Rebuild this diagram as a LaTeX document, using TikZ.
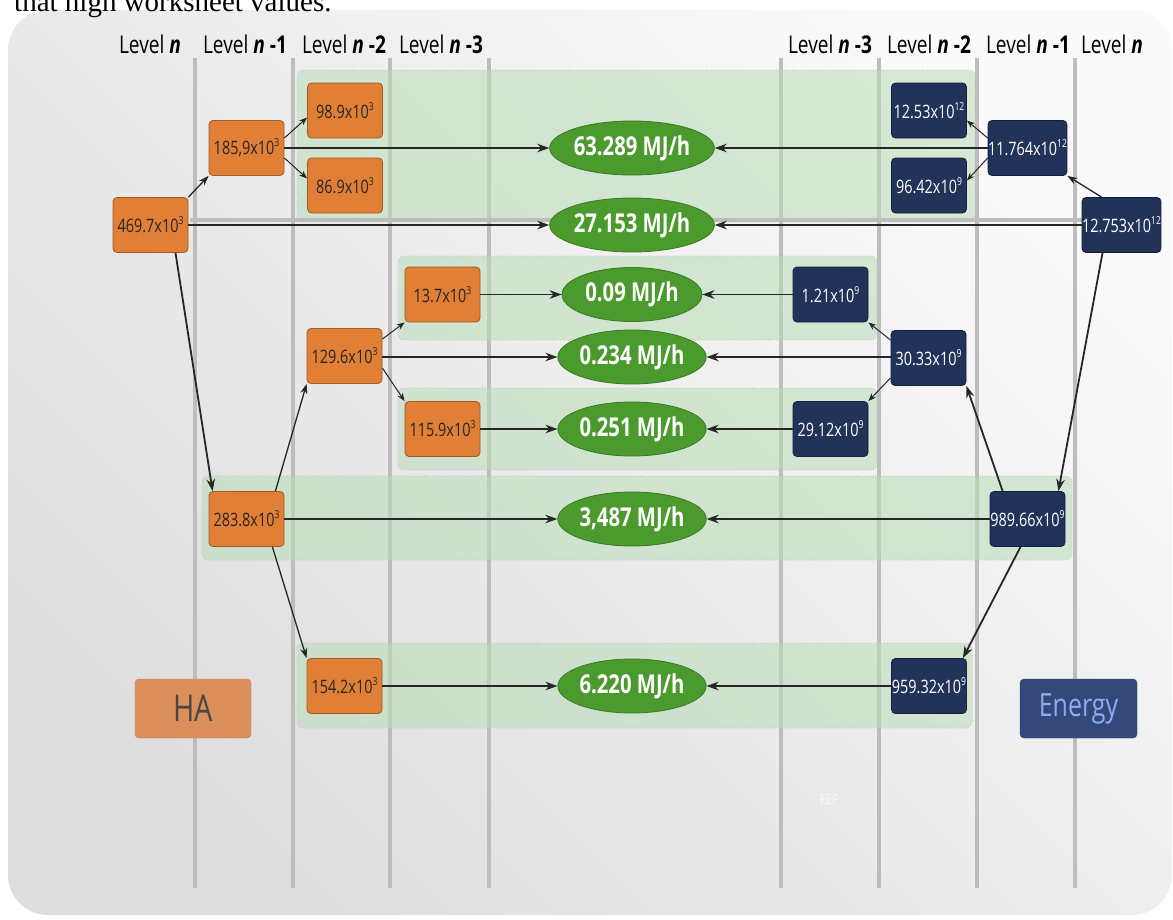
\documentclass[tikz,border=0pt]{standalone}
\usepackage{fontspec}
\setmainfont{Liberation Serif}
\newfontfamily\osfont[FakeStretch=0.78]{Open Sans}
\newcommand{\expo}[1]{\raisebox{0.42em}{\fontsize{11}{11}\selectfont #1}}
\usetikzlibrary{arrows.meta,shapes.geometric,calc}
\definecolor{orng}{HTML}{E07F35}
\definecolor{orngb}{HTML}{A35A22}
\definecolor{navy}{HTML}{22335A}
\definecolor{navyb}{HTML}{141F3A}
\definecolor{grn}{HTML}{4A9A2E}
\definecolor{grnb}{HTML}{3A7A22}
\definecolor{gridc}{HTML}{BDBDBD}
\definecolor{bandc}{HTML}{B8DCB8}
\definecolor{hafill}{HTML}{DC8E5B}
\definecolor{enfill}{HTML}{34497A}
\definecolor{entext}{HTML}{8EAAF0}
\begin{document}
\begin{tikzpicture}[x=1pt,y=-1pt,
  hbox/.style={draw=orngb,fill=orng,rounded corners=4pt,minimum width=75pt,minimum height=55pt,inner sep=0pt,text=black!85,font=\osfont\fontsize{18.5}{22}\selectfont,line width=0.8pt},
  ebox/.style={draw=navyb,fill=navy,rounded corners=4pt,minimum width=75pt,minimum height=55pt,inner sep=0pt,text=white,font=\osfont\fontsize{18.5}{22}\selectfont,line width=0.8pt},
  mj/.style={ellipse,draw=grnb,fill=grn,minimum width=140pt,minimum height=54pt,inner sep=0pt,text=white,font=\osfont\bfseries\fontsize{26}{30}\selectfont,line width=0.8pt},
  band/.style={fill=bandc,fill opacity=0.55,draw=gray!55,dotted,rounded corners=6pt,line width=0.7pt},
  lvl/.style={font=\osfont\fontsize{24.5}{28}\selectfont,text=black,inner sep=0pt},
  arr/.style={-{Stealth[length=12pt,width=8.5pt]},line width=1.8pt,draw=black!85},
  marr/.style={-{Stealth[length=10pt,width=7pt]},line width=1.3pt,draw=black!85},
  tarr/.style={-{Stealth[length=8pt,width=6pt]},line width=1pt,draw=black!85},
  gridl/.style={draw=gridc,line width=4pt}
]
\useasboundingbox (0,0) rectangle (1173,919);
\clip (0,0) rectangle (1173,919);
\fill[white] (0,0) rectangle (1173,919);
\shade[rounded corners=40pt,top color=white!98!black,bottom color=white!87!black,shading angle=-45] (8,10) rectangle (1172,915);
\node[anchor=base west,inner sep=0pt,font=\fontsize{29}{33}\selectfont] (toptext) at (14,11) {that high worksheet values.};
% grid
\foreach \x in {195,293,390,489,781,879,977,1075} \draw[gridl] (\x,58) -- (\x,888);
% bands
\draw[band] (297,70) rectangle (975,222);
\draw[band] (398,256) rectangle (877,340);
\draw[band] (398,388) rectangle (877,470);
\draw[band] (202,476) rectangle (1072,560);
\draw[band] (297,643) rectangle (972,728);
\draw[gridl] (190,220) -- (1085,220);
% level labels
\node[lvl] (l1) at (150,44) {Level \textbf{\textit{n}}};
\node[lvl] (l2) at (245,44) {Level \textbf{\textit{n} -1}};
\node[lvl] (l3) at (344,44) {Level \textbf{\textit{n} -2}};
\node[lvl] (l4) at (441,44) {Level \textbf{\textit{n} -3}};
\node[lvl] (r4) at (830,44) {Level \textbf{\textit{n} -3}};
\node[lvl] (r3) at (929,44) {Level \textbf{\textit{n} -2}};
\node[lvl] (r2) at (1028,44) {Level \textbf{\textit{n} -1}};
\node[lvl] (r1) at (1112,44) {Level \textbf{\textit{n}}};
% left nodes
\node[hbox] (n469) at (150.5,225) {469.7x10\expo{3}};
\node[hbox] (n185) at (246.5,148) {185,9x10\expo{3}};
\node[hbox] (n98) at (345,110.5) {98.9x10\expo{3}};
\node[hbox] (n86) at (345,185.5) {86.9x10\expo{3}};
\node[hbox] (n137) at (442.5,294.5) {13.7x10\expo{3}};
\node[hbox] (n129) at (344.5,356) {129.6x10\expo{3}};
\node[hbox] (n115) at (442.5,429) {115.9x10\expo{3}};
\node[hbox] (n283) at (246.5,519) {283.8x10\expo{3}};
\node[hbox] (n154) at (344.5,686) {154.2x10\expo{3}};
% right nodes
\node[ebox] (n1253) at (929,110.5) {12.53x10\expo{12}};
\node[ebox] (n9642) at (929,185.5) {96.42x10\expo{9}};
\node[ebox] (n11764) at (1027.5,148) {11.764x10\expo{12}};
\node[ebox] (n12753) at (1121.5,225) {12.753x10\expo{12}};
\node[ebox] (n121) at (830.5,294.5) {1.21x10\expo{9}};
\node[ebox] (n3033) at (928.5,358) {30.33x10\expo{9}};
\node[ebox] (n2912) at (830.5,429) {29.12x10\expo{9}};
\node[ebox] (n98966) at (1027.5,519) {989.66x10\expo{9}};
\node[ebox] (n95932) at (929,686) {959.32x10\expo{9}};
% ellipses
\node[mj] (e1) at (632,148) {63.289 MJ/h};
\node[mj] (e2) at (632,225) {27.153 MJ/h};
\node[mj] (e3) at (632,294.5) {0.09 MJ/h};
\node[mj] (e4) at (632,357) {0.234 MJ/h};
\node[mj] (e5) at (632,429) {0.251 MJ/h};
\node[mj] (e6) at (632,519) {3,487 MJ/h};
\node[mj] (e7) at (632,686) {6.220 MJ/h};
% legend
\node[draw=hafill!85!black,fill=hafill,rounded corners=4pt,minimum width=116pt,minimum height=59pt,text=black!72,font=\osfont\fontsize{37}{40}\selectfont] (ha) at (193,708.5) {HA};
\node[draw=enfill!85!black,fill=enfill,rounded corners=4pt,minimum width=117pt,minimum height=59pt,text=entext,font=\osfont\fontsize{32}{36}\selectfont] (en) at (1078.5,708.5) {Energy};
\node[text=white,opacity=0.7,font=\osfont\fontsize{14}{16}\selectfont] (eef) at (829,799) {EEF};
% left arrows
\draw[marr] (n469.north east) -- (n185.south west);
\draw[tarr] ([yshift=10pt]n185.east) -- ([yshift=-7pt]n98.west);
\draw[tarr] ([yshift=-10pt]n185.east) -- ([yshift=7pt]n86.west);
\draw[arr] (n185.east) -- (e1.west);
\draw[arr] (n469.east) -- (e2.west);
\draw[arr] ([xshift=25pt]n469.south) -- ([xshift=4pt]n283.north west);
\draw[marr] ([xshift=-9pt]n283.north east) -- (n129.south west);
\draw[tarr] ([yshift=17pt]n129.east) -- (n137.south west);
\draw[tarr] ([yshift=-12pt]n129.east) -- (n115.north west);
\draw[arr] ([yshift=-1pt]n129.east) -- (e4.west);
\draw[arr] (n137.east) -- (e3.west);
\draw[arr] (n115.east) -- (e5.west);
\draw[arr] (n283.east) -- (e6.west);
\draw[marr] ([xshift=-12pt]n283.south east) -- (n154.north west);
\draw[arr] (n154.east) -- (e7.west);
% right arrows
\draw[marr] ([xshift=20pt]n12753.north west) -- (n11764.south east);
\draw[tarr] ([yshift=10pt]n11764.west) -- ([yshift=-10pt]n1253.east);
\draw[tarr] ([yshift=-10pt]n11764.west) -- ([yshift=5pt]n9642.east);
\draw[arr] (n11764.west) -- (e1.east);
\draw[arr] (n12753.west) -- (e2.east);
\draw[arr] ([xshift=-19pt]n12753.south) -- ([xshift=-7pt]n98966.north east);
\draw[arr] ([xshift=13pt]n98966.north west) -- (n3033.south east);
\draw[tarr] ([yshift=-10pt]n3033.north west) -- (n121.south east);
\draw[tarr] ([yshift=8pt]n3033.south west) -- (n2912.north east);
\draw[arr] ([yshift=1pt]n3033.west) -- (e4.east);
\draw[arr] (n121.west) -- (e3.east);
\draw[arr] (n2912.west) -- (e5.east);
\draw[arr] (n98966.west) -- (e6.east);
\draw[arr] ([xshift=-7pt]n98966.south) -- ([xshift=-4pt]n95932.north east);
\draw[arr] (n95932.west) -- (e7.east);
\end{tikzpicture}
\end{document}
